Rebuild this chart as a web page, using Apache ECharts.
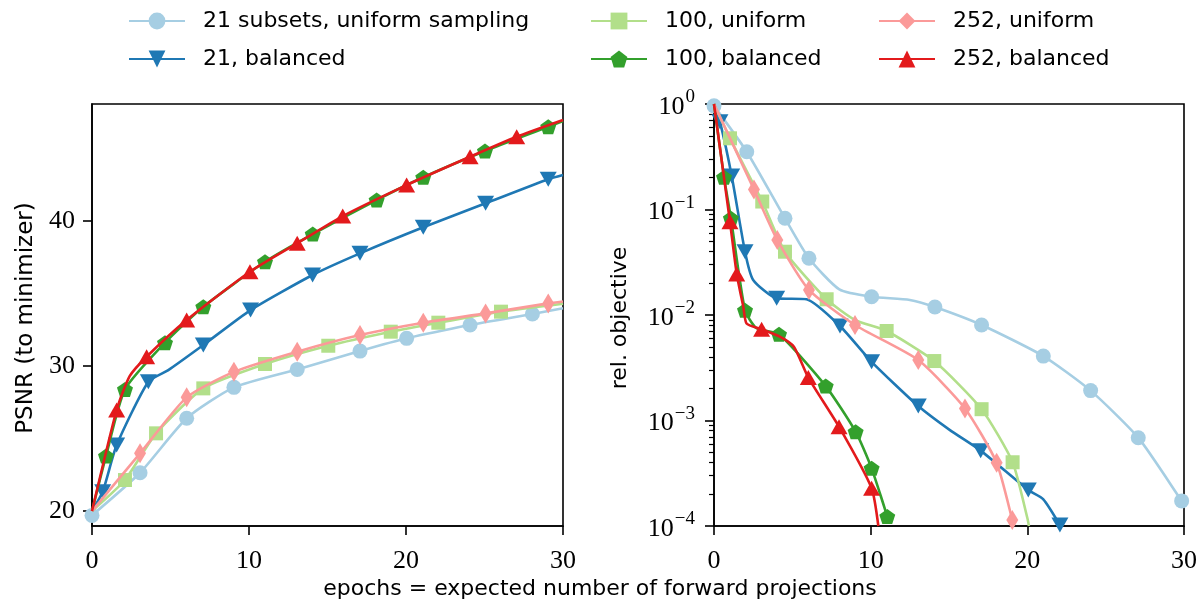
<!DOCTYPE html>
<html><head><meta charset="utf-8">
<script src="https://cdn.jsdelivr.net/npm/echarts@6/dist/echarts.min.js"></script>
<style>html,body{margin:0;padding:0;background:#fff}#c{width:1200px;height:604px}</style>
</head><body><div id="c"></div>
<script>
// ---------- data ----------
const seriesNames = ['21 subsets, uniform sampling', '21, balanced', '100, uniform', '100, balanced', '252, uniform', '252, balanced'];
const xTickValues = [0, 10, 20, 30];
const psnrTickValues = [20, 30, 40];
const xAxisTitle = 'epochs = expected number of forward projections';
const psnrTitle = 'PSNR (to minimizer)';
const objTitle = 'rel. objective';

// PSNR panel: points carrying a marker, and extra curve points without marker
const psnrU21Marks = [[0,19.7],[3.06,22.64],[6.03,26.4],[9.04,28.53],[13.07,29.77],[17.07,31.03],[20.04,31.91],[24.08,32.83],[28.05,33.59]];
const psnrU21Path  = [[30,33.98]];
const psnrB21Marks = [[0.68,21.33],[1.57,24.55],[3.59,28.92],[7.09,31.45],[10.1,33.86],[14.05,36.28],[17.07,37.77],[21.1,39.57],[25.07,41.22],[29.06,42.88]];
const psnrB21Path  = [[0,20],[4.86,29.72],[30,43.17]];
const psnrU100Marks = [[2.1,22.14],[4.08,25.36],[7.09,28.46],[11.02,30.14],[15.05,31.4],[19.03,32.37],[22.06,32.99],[26.05,33.75]];
const psnrU100Path  = [[0,20],[30,34.3]];
const psnrB100Marks = [[0.89,23.79],[2.1,28.39],[4.65,31.61],[7.09,34.09],[11.02,37.19],[14.06,39.1],[18.13,41.45],[21.1,43.02],[25.03,44.83],[29.06,46.5]];
const psnrB100Path  = [[0,20],[30,46.9]];
const psnrU252Marks = [[3.06,23.98],[6.03,27.84],[9.04,29.6],[13.07,30.99],[17.07,32.14],[21.1,32.99],[25.07,33.63],[29.06,34.32]];
const psnrU252Path  = [[0,20],[30,34.45]];
const psnrB252Marks = [[1.57,26.97],[3.48,30.64],[6.03,33.17],[10.06,36.5],[13.07,38.46],[15.97,40.34],[20.04,42.48],[24.08,44.43],[27.05,45.81]];
const psnrB252Path  = [[0,20],[2.4,29.3],[30,46.97]];

// relative objective panel
const objU21Marks = [[0,0.96],[2.09,0.353],[4.53,0.0826],[6.06,0.0345],[10.06,0.0149],[14.1,0.0119],[17.08,0.00804],[21.02,0.00408],[24.04,0.00192],[27.08,0.000687],[29.85,0.000173]];
const objU21Path  = [[8.0,0.0175],[12.5,0.0139],[30,0.00016]];
const objB21Marks = [[0.38,0.68],[1.13,0.208],[1.98,0.0398],[4.0,0.0144],[8.04,0.00787],[10.06,0.0036],[13.04,0.00137],[17.02,0.000518],[20.06,0.000219],[22.08,0.000102]];
const objB21Path  = [[0,1],[2.5,0.0215],[5.9,0.0141],[15.06,0.00081],[21.02,0.000179]];
const objU100Marks = [[1.02,0.473],[3.08,0.119],[4.53,0.0398],[7.19,0.0141],[11.02,0.00705],[14.06,0.00366],[17.08,0.00128],[19.06,0.000402]];
const objU100Path  = [[0,1],[9.0,0.00897],[20.02,0.000116],[20.1,0.0001]];
const objB100Marks = [[0.64,0.202],[1.08,0.0826],[1.98,0.0111],[4.15,0.00656],[7.13,0.00212],[9.04,0.000783],[10.06,0.000352],[11.06,0.000123]];
const objB100Path  = [[0,1],[2.72,0.00748]];
const objU252Marks = [[2.55,0.155],[4.04,0.0514],[6.06,0.0173],[9.0,0.00804],[13.04,0.00374],[16.02,0.0013],[18.04,0.000398],[19.04,0.000114]];
const objU252Path  = [[0,1],[19.1,0.0001]];
const objB252Marks = [[1.02,0.0766],[1.45,0.0245],[3.04,0.00731],[6.02,0.00255],[7.98,0.000873],[10.06,0.000228]];
const objB252Path  = [[0,1],[1.87,0.012],[2.08,0.0083],[4.2,0.00623],[5.1,0.005],[10.49,0.0001]];

// ---------- styling ----------
const colors = ['#a6cee3', '#1f78b4', '#b2df8a', '#33a02c', '#fb9a99', '#e31a1c'];
const pentagon = 'path://M50,0 L97.6,34.5 L79.4,90.5 L20.6,90.5 L2.4,34.5 Z';
const symbols = [
  {symbol: 'circle', symbolSize: 15, symbolRotate: 0},
  {symbol: 'triangle', symbolSize: [17, 15], symbolRotate: 180},
  {symbol: 'rect', symbolSize: 14, symbolRotate: 0},
  {symbol: pentagon, symbolSize: [16, 15], symbolRotate: 0},
  {symbol: 'diamond', symbolSize: [12, 20], symbolRotate: 0},
  {symbol: 'triangle', symbolSize: [17, 15], symbolRotate: 0}
];
const tickFont = 'Liberation Serif';
const textFont = 'DejaVu Sans';

function build(marks, path) {
  const pts = marks.map(p => ({p: p, m: true})).concat(path.map(p => ({p: p, m: false})));
  pts.sort((a, b) => a.p[0] - b.p[0]);
  return pts.map(o => o.m ? {value: o.p} : {value: o.p, symbol: 'none'});
}
const psnrSets = [[psnrU21Marks, psnrU21Path], [psnrB21Marks, psnrB21Path], [psnrU100Marks, psnrU100Path], [psnrB100Marks, psnrB100Path], [psnrU252Marks, psnrU252Path], [psnrB252Marks, psnrB252Path]];
const objSets = [[objU21Marks, objU21Path], [objB21Marks, objB21Path], [objU100Marks, objU100Path], [objB100Marks, objB100Path], [objU252Marks, objU252Path], [objB252Marks, objB252Path]];

function mkSeries(sets, axisIdx) {
  return sets.map((s, i) => ({
    name: seriesNames[i], type: 'line', xAxisIndex: axisIdx, yAxisIndex: axisIdx,
    data: build(s[0], s[1]), smooth: 0.2,
    symbol: symbols[i].symbol, symbolSize: symbols[i].symbolSize, symbolRotate: symbols[i].symbolRotate,
    lineStyle: {color: colors[i], width: 2.6}, itemStyle: {color: colors[i]},
    z: 2 + i, clip: true, animation: false, emphasis: {disabled: true}
  }));
}

const axisLine = {show: true, onZero: false, lineStyle: {color: '#000', width: 1.6}};
const majorTick = {show: true, length: 9, lineStyle: {color: '#000', width: 1.6}};
const tickLabel = {color: '#000', fontFamily: tickFont, fontSize: 26};

const minorLog = [];
for (let e = -4; e < 0; e++) for (let k = 2; k <= 9; k++) minorLog.push(Math.log10(k) + e);

const legendPos = [[128, 10], [128, 48], [590, 10], [590, 48], [878, 10], [878, 48]];

const option = {
  backgroundColor: '#fff',
  animation: false,
  legend: seriesNames.map((n, i) => ({
    data: [n], left: legendPos[i][0], top: legendPos[i][1], padding: 0,
    itemWidth: 56, itemHeight: 21, selectedMode: false,
    textStyle: {fontFamily: textFont, fontSize: 22, color: '#000', padding: [0, 0, 0, 13]}
  })),
  grid: [
    {left: 92, right: 637, top: 104, bottom: 78, show: true, borderColor: '#000', borderWidth: 1.6, backgroundColor: 'transparent'},
    {left: 714, right: 16, top: 104, bottom: 78, show: true, borderColor: '#000', borderWidth: 1.6, backgroundColor: 'transparent'}
  ],
  xAxis: [0, 1].map(g => ({
    type: 'value', gridIndex: g, min: 0, max: 30, interval: 10,
    axisLine: axisLine, axisTick: majorTick, splitLine: {show: false},
    axisLabel: Object.assign({margin: 22, customValues: xTickValues}, tickLabel)
  })),
  yAxis: [
    {type: 'value', gridIndex: 0, min: 18.97, max: 48.07,
     axisLine: axisLine, splitLine: {show: false},
     axisTick: Object.assign({customValues: psnrTickValues}, majorTick),
     axisLabel: Object.assign({margin: 17, customValues: psnrTickValues}, tickLabel)},
    {type: 'log', logBase: 10, gridIndex: 1, min: 0.0001, max: 1,
     axisLine: axisLine, splitLine: {show: false}, axisTick: majorTick,
     axisLabel: {margin: 19, color: '#000',
       formatter: v => { const e = Math.round(Math.log10(v)); return '{b|10}{s|' + (e < 0 ? '\u2212' + (-e) : e) + '}'; },
       rich: {b: {fontFamily: tickFont, fontSize: 26, color: '#000', padding: [6, 0, 0, 0]},
              s: {fontFamily: tickFont, fontSize: 19, color: '#000', verticalAlign: 'top', padding: [0, 0, 12, 1]}}}},
    {type: 'value', gridIndex: 1, min: -4, max: 0, position: 'left',
     axisLine: {show: false}, splitLine: {show: false}, axisLabel: {show: false},
     axisTick: {show: true, length: 5, customValues: minorLog, lineStyle: {color: '#000', width: 1.2}}}
  ],
  graphic: [
    {type: 'text', left: 'center', top: 578, style: {text: xAxisTitle, font: '22px "DejaVu Sans"', fill: '#000'}},
    {type: 'text', x: 15, y: 318, rotation: Math.PI / 2, style: {text: psnrTitle, font: '23px "DejaVu Sans"', fill: '#000', align: 'center', verticalAlign: 'top'}},
    {type: 'text', x: 609, y: 318, rotation: Math.PI / 2, style: {text: objTitle, font: '22px "DejaVu Sans"', fill: '#000', align: 'center', verticalAlign: 'top'}}
  ],
  series: mkSeries(psnrSets, 0).concat(mkSeries(objSets, 1))
};
const chart = echarts.init(document.getElementById('c'), null, {renderer: 'canvas'});
chart.setOption(option);
</script></body></html>
